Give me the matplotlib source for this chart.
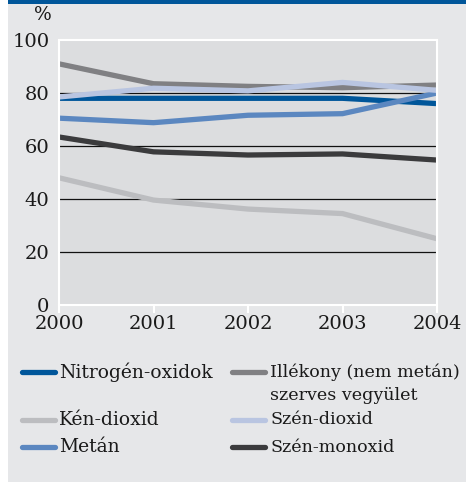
import matplotlib
matplotlib.use("Agg")
from matplotlib import pyplot as plt
from matplotlib.lines import Line2D
from matplotlib.patches import Rectangle

years = [2000, 2001, 2002, 2003, 2004]

nitrogen = [78, 78, 78, 78, 76]
illekony = [91, 83.5, 82.5, 82, 83]
ken = [48, 39.6, 36.2, 34.5, 25]
szen_dioxid = [78.5, 81.8, 80.8, 84, 81]
metan = [70.5, 68.8, 71.6, 72.2, 80]
szen_monoxid = [63.4, 57.8, 56.6, 57, 54.7]

labels = ["Nitrogén-oxidok", "Illékony (nem metán)\nszerves vegyület",
          "Kén-dioxid", "Szén-dioxid", "Metán", "Szén-monoxid"]
colors = ["#00569a", "#808083", "#bcbdc0", "#b9c5e1", "#5b87c0", "#3b3b3d"]
series = [nitrogen, illekony, ken, szen_dioxid, metan, szen_monoxid]
# drawing order (back to front)
order = [1, 0, 4, 3, 2, 5]

W, H = 466, 482
TXT = "#1a1a1a"
fig = plt.figure(figsize=(W / 100, H / 100), dpi=100)
fig.patch.set_facecolor("white")
plt.rcParams["font.family"] = ["DejaVu Serif"]

# background panel + top bar
fig.patches.append(Rectangle((8 / W, 0), 1 - 8 / W, 1, transform=fig.transFigure,
                             facecolor="#e6e7e9", edgecolor="none", zorder=-2))
fig.patches.append(Rectangle((8 / W, 1 - 4 / H), 1 - 8 / W, 4 / H, transform=fig.transFigure,
                             facecolor="#00569a", edgecolor="none", zorder=-1))

ax = fig.add_axes([59 / W, 1 - 305 / H, (437 - 59) / W, (305 - 40) / H])
ax.set_facecolor("#dcdddf")
for s in ax.spines.values():
    s.set_color("white")
    s.set_linewidth(1.5)

for y in [20, 40, 60, 80]:
    ax.axhline(y, color="#111111", lw=0.9, zorder=1)

for i in order:
    ax.plot(years, series[i], color=colors[i], lw=3.8, solid_capstyle="butt",
            solid_joinstyle="miter", zorder=2)

ax.set_xlim(2000, 2004)
ax.set_ylim(0, 100)
ax.set_xticks(years)
ax.set_yticks([0, 20, 40, 60, 80, 100])
ax.tick_params(axis="x", colors="white", length=6, width=1.5, labelcolor=TXT,
               labelsize=14, pad=1)
ax.tick_params(axis="y", length=0, labelcolor=TXT, labelsize=14, pad=7)
ax.text(-0.018, 1.06, "%", transform=ax.transAxes, ha="right", va="bottom",
        fontsize=13.5, color=TXT)

# legend
rows = [372, 372, 420, 420, 447, 447]
cols = [(22, 55, 59, 13.5), (232, 265, 270, 12.6)]
for k in range(6):
    x0, x1, xt, fs = cols[k % 2]
    y = 1 - rows[k] / H
    fig.add_artist(Line2D([x0 / W, x1 / W], [y, y], color=colors[k], lw=3.8,
                          solid_capstyle="round", transform=fig.transFigure))
    for j, part in enumerate(labels[k].split("\n")):
        fig.text(xt / W, y - j * 23 / H, part, ha="left", va="center",
                 fontsize=fs, color=TXT, transform=fig.transFigure)

fig.savefig("out.png", dpi=100, facecolor=fig.get_facecolor())
